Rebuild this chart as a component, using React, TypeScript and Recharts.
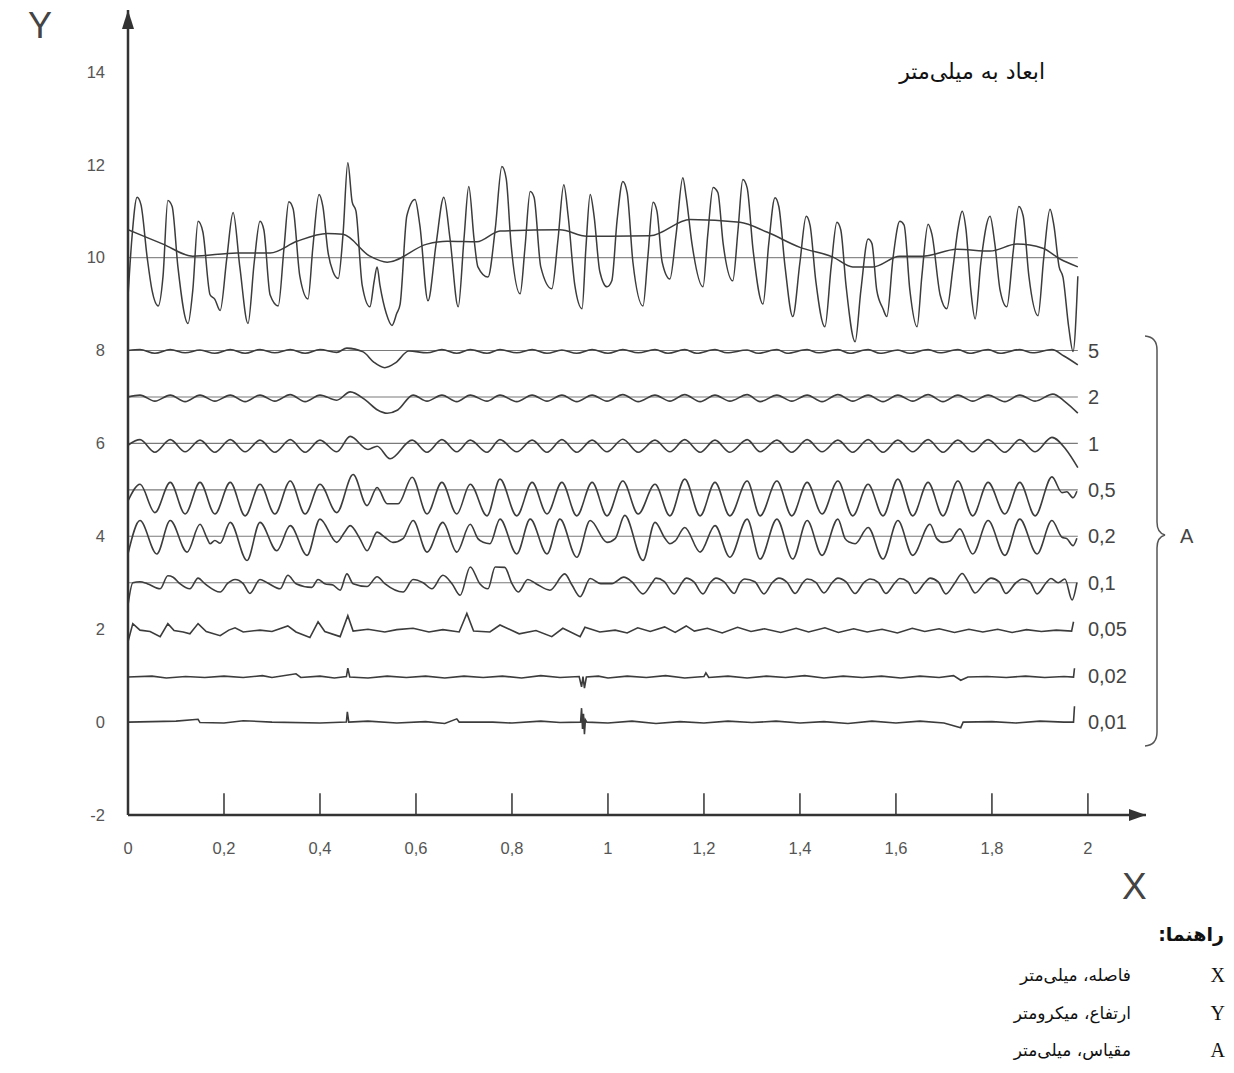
import React from "react";
import { LineChart, Line, XAxis, YAxis, ReferenceLine, ReferenceDot } from "recharts";

type Pt = [number, number];

const xTicks = [0, 0.2, 0.4, 0.6, 0.8, 1, 1.2, 1.4, 1.6, 1.8, 2];
const yTicks = [-2, 0, 2, 4, 6, 8, 10, 12, 14];
const xTickMarks = [0.2, 0.4, 0.6, 0.8, 1, 1.2, 1.4, 1.6, 1.8, 2];
const bandLabels = ["5", "2", "1", "0,5", "0,2", "0,1", "0,05", "0,02", "0,01"];
const bandBases = [8, 7, 6, 5, 4, 3, 2, 1, 0];
const profileLevel = 10;
const traceEnd = 1.979;

// measured profile (X mm, Y µm)
const profile: Pt[] = [
  [0, 9.15], [0.008, 10.4], [0.019, 11.3], [0.027, 11.14], [0.04, 10.0], [0.05, 9.3], [0.063, 8.96],
  [0.073, 9.6], [0.083, 11.23], [0.092, 11.1], [0.104, 9.8], [0.125, 8.58], [0.135, 9.3], [0.146, 10.78],
  [0.156, 10.55], [0.171, 9.2], [0.181, 9.1], [0.192, 8.86], [0.206, 10.0], [0.219, 10.97], [0.233, 9.8],
  [0.25, 8.58], [0.263, 9.9], [0.275, 10.78], [0.283, 10.6], [0.296, 9.2], [0.313, 8.96], [0.325, 10.2],
  [0.335, 11.2], [0.344, 11.05], [0.358, 9.6], [0.375, 9.11], [0.385, 10.2], [0.398, 11.36], [0.406, 11.1],
  [0.417, 10.1], [0.427, 9.7], [0.438, 9.55], [0.448, 10.5], [0.458, 12.04], [0.467, 11.2], [0.475, 11.0],
  [0.488, 9.4], [0.504, 8.94], [0.513, 9.5], [0.519, 9.8], [0.525, 9.4], [0.538, 8.8], [0.55, 8.54],
  [0.56, 8.8], [0.567, 9.0], [0.581, 10.9], [0.598, 11.25], [0.608, 10.7], [0.625, 9.07], [0.642, 10.3],
  [0.658, 11.3], [0.671, 10.4], [0.688, 8.94], [0.7, 10.4], [0.71, 11.53], [0.721, 10.4], [0.729, 9.8],
  [0.75, 9.58], [0.765, 10.6], [0.779, 11.96], [0.788, 11.7], [0.798, 10.3], [0.817, 9.22], [0.827, 10.2],
  [0.838, 11.42], [0.846, 11.3], [0.86, 9.8], [0.883, 9.33], [0.896, 10.4], [0.908, 11.57], [0.917, 10.9],
  [0.931, 9.4], [0.946, 8.9], [0.954, 10.2], [0.963, 11.36], [0.971, 10.9], [0.983, 9.7], [0.998, 9.37],
  [1.008, 9.5], [1.019, 10.8], [1.031, 11.64], [1.04, 11.4], [1.052, 9.9], [1.073, 8.96], [1.083, 10.0],
  [1.094, 11.19], [1.102, 11.0], [1.113, 9.9], [1.129, 9.54], [1.142, 10.5], [1.156, 11.72], [1.163, 11.3],
  [1.175, 10.3], [1.198, 9.37], [1.208, 10.5], [1.219, 11.51], [1.229, 11.4], [1.24, 10.3], [1.26, 9.5],
  [1.271, 10.6], [1.281, 11.68], [1.29, 11.5], [1.302, 10.2], [1.323, 9.0], [1.335, 10.3], [1.348, 11.29],
  [1.356, 11.1], [1.369, 9.8], [1.385, 8.73], [1.4, 9.9], [1.413, 10.89], [1.421, 10.7], [1.433, 9.5],
  [1.452, 8.51], [1.465, 9.8], [1.477, 10.76], [1.485, 10.6], [1.496, 9.4], [1.515, 8.19], [1.527, 9.3],
  [1.542, 10.4], [1.55, 10.3], [1.56, 9.3], [1.573, 8.9], [1.581, 8.73], [1.594, 10.0], [1.608, 10.78],
  [1.617, 10.7], [1.629, 9.3], [1.644, 8.51], [1.654, 9.6], [1.667, 10.72], [1.675, 10.5], [1.692, 9.2],
  [1.706, 8.9], [1.719, 9.8], [1.729, 10.6], [1.738, 11.0], [1.746, 10.6], [1.756, 9.3], [1.765, 8.68],
  [1.777, 9.9], [1.796, 10.89], [1.806, 10.3], [1.817, 9.3], [1.831, 8.94], [1.844, 10.1], [1.856, 11.1],
  [1.865, 10.9], [1.877, 9.6], [1.896, 8.75], [1.908, 10.0], [1.921, 11.04], [1.929, 10.7], [1.94, 9.8],
  [1.948, 9.58], [1.96, 8.5], [1.969, 7.98], [1.979, 9.6],
];

// mean line through the profile
const meanLine: Pt[] = [
  [0, 10.6], [0.035, 10.45], [0.073, 10.29], [0.135, 10.03], [0.227, 10.1], [0.296, 10.1], [0.352, 10.35],
  [0.415, 10.52], [0.448, 10.5], [0.504, 10.03], [0.54, 9.9], [0.623, 10.29], [0.665, 10.35], [0.727, 10.34],
  [0.775, 10.57], [0.9, 10.6], [0.956, 10.46], [1.004, 10.46], [1.088, 10.47], [1.171, 10.82], [1.275, 10.76],
  [1.331, 10.55], [1.4, 10.22], [1.469, 10.01], [1.51, 9.8], [1.552, 9.8], [1.608, 10.03], [1.656, 10.03],
  [1.727, 10.18], [1.796, 10.14], [1.852, 10.29], [1.906, 10.2], [1.942, 9.97], [1.979, 9.8],
];

// filtered components, one per scale
const band5: Pt[] = [
  [0, 8.0], [0.025, 8.02], [0.056, 7.94], [0.088, 8.02], [0.119, 7.95], [0.15, 8.01], [0.181, 7.94],
  [0.213, 8.02], [0.244, 7.94], [0.275, 8.02], [0.306, 7.95], [0.338, 8.02], [0.369, 7.94], [0.4, 8.02],
  [0.435, 7.96], [0.456, 8.05], [0.49, 7.97], [0.512, 7.75], [0.535, 7.63], [0.558, 7.74], [0.585, 7.99],
  [0.623, 7.95], [0.654, 8.02], [0.685, 7.94], [0.713, 8.02], [0.748, 7.94], [0.775, 8.02], [0.81, 7.95],
  [0.842, 8.02], [0.873, 7.94], [0.904, 8.01], [0.935, 7.94], [0.967, 8.02], [1.0, 7.94], [1.031, 8.02],
  [1.063, 7.95], [1.098, 8.02], [1.125, 7.94], [1.16, 8.02], [1.185, 7.94], [1.223, 8.02], [1.248, 7.95],
  [1.29, 8.01], [1.313, 7.94], [1.352, 8.02], [1.373, 7.94], [1.415, 8.02], [1.438, 7.95], [1.479, 8.02],
  [1.504, 7.94], [1.542, 8.02], [1.567, 7.94], [1.604, 8.01], [1.629, 7.94], [1.667, 8.02], [1.692, 7.95],
  [1.729, 8.02], [1.754, 7.94], [1.792, 8.02], [1.817, 7.94], [1.858, 8.02], [1.885, 7.95], [1.925, 8.02],
  [1.95, 7.88], [1.979, 7.69],
];

const band2: Pt[] = [
  [0, 7.0], [0.025, 7.04], [0.056, 6.91], [0.088, 7.04], [0.119, 6.9], [0.15, 7.04], [0.181, 6.91],
  [0.213, 7.04], [0.244, 6.9], [0.275, 7.04], [0.306, 6.91], [0.338, 7.05], [0.369, 6.9], [0.4, 7.04],
  [0.435, 6.93], [0.463, 7.11], [0.495, 6.93], [0.52, 6.72], [0.54, 6.65], [0.562, 6.72], [0.594, 7.04],
  [0.623, 6.91], [0.654, 7.04], [0.685, 6.9], [0.713, 7.04], [0.748, 6.91], [0.775, 7.04], [0.81, 6.9],
  [0.842, 7.04], [0.873, 6.91], [0.904, 7.04], [0.935, 6.9], [0.967, 7.04], [0.998, 6.91], [1.031, 7.05],
  [1.063, 6.9], [1.098, 7.04], [1.129, 6.91], [1.16, 7.05], [1.192, 6.9], [1.223, 7.04], [1.254, 6.91],
  [1.29, 7.05], [1.317, 6.9], [1.352, 7.04], [1.383, 6.91], [1.415, 7.04], [1.446, 6.9], [1.479, 7.05],
  [1.51, 6.91], [1.542, 7.04], [1.573, 6.9], [1.604, 7.04], [1.635, 6.91], [1.667, 7.05], [1.698, 6.9],
  [1.729, 7.04], [1.76, 6.91], [1.792, 7.04], [1.827, 6.9], [1.858, 7.04], [1.89, 6.91], [1.927, 7.06],
  [1.952, 6.9], [1.979, 6.65],
];

const band1: Pt[] = [
  [0, 5.96], [0.025, 6.08], [0.056, 5.81], [0.088, 6.08], [0.119, 5.82], [0.15, 6.07], [0.181, 5.81],
  [0.213, 6.08], [0.244, 5.82], [0.275, 6.07], [0.306, 5.81], [0.338, 6.08], [0.369, 5.81], [0.4, 6.07],
  [0.435, 5.82], [0.463, 6.15], [0.5, 5.87], [0.519, 5.94], [0.546, 5.67], [0.592, 6.07], [0.623, 5.81],
  [0.654, 6.08], [0.685, 5.82], [0.713, 6.07], [0.748, 5.81], [0.775, 6.08], [0.81, 5.82], [0.842, 6.07],
  [0.873, 5.81], [0.904, 6.08], [0.935, 5.81], [0.967, 6.07], [0.998, 5.82], [1.031, 6.09], [1.063, 5.81],
  [1.098, 6.07], [1.129, 5.82], [1.16, 6.08], [1.192, 5.81], [1.223, 6.07], [1.254, 5.81], [1.29, 6.08],
  [1.317, 5.82], [1.352, 6.07], [1.383, 5.81], [1.415, 6.08], [1.446, 5.82], [1.479, 6.07], [1.51, 5.81],
  [1.542, 6.08], [1.573, 5.81], [1.604, 6.07], [1.635, 5.82], [1.667, 6.08], [1.698, 5.81], [1.729, 6.07],
  [1.76, 5.82], [1.792, 6.08], [1.827, 5.81], [1.858, 6.08], [1.89, 5.82], [1.925, 6.13], [1.955, 5.86],
  [1.979, 5.48],
];

const band05: Pt[] = [
  [0, 4.76], [0.025, 5.12], [0.056, 4.51], [0.088, 5.16], [0.119, 4.48], [0.15, 5.16], [0.181, 4.48],
  [0.213, 5.16], [0.244, 4.44], [0.275, 5.12], [0.306, 4.48], [0.338, 5.19], [0.369, 4.48], [0.4, 5.12],
  [0.435, 4.51], [0.469, 5.33], [0.498, 4.66], [0.519, 5.05], [0.54, 4.7], [0.563, 4.7], [0.592, 5.27],
  [0.623, 4.48], [0.654, 5.16], [0.685, 4.48], [0.713, 5.12], [0.748, 4.44], [0.775, 5.23], [0.81, 4.44],
  [0.842, 5.16], [0.873, 4.48], [0.904, 5.16], [0.935, 4.44], [0.967, 5.16], [0.998, 4.44], [1.031, 5.19],
  [1.063, 4.48], [1.098, 5.12], [1.129, 4.44], [1.16, 5.23], [1.192, 4.44], [1.223, 5.16], [1.254, 4.44],
  [1.29, 5.19], [1.317, 4.44], [1.352, 5.19], [1.383, 4.44], [1.415, 5.16], [1.446, 4.48], [1.479, 5.19],
  [1.51, 4.44], [1.542, 5.12], [1.573, 4.44], [1.604, 5.23], [1.635, 4.44], [1.667, 5.16], [1.698, 4.44],
  [1.729, 5.19], [1.76, 4.44], [1.792, 5.16], [1.827, 4.48], [1.858, 5.16], [1.89, 4.44], [1.925, 5.28],
  [1.946, 4.94], [1.956, 4.96], [1.969, 4.83], [1.977, 4.97],
];

const band02: Pt[] = [
  [0, 3.62], [0.025, 4.34], [0.06, 3.62], [0.088, 4.34], [0.123, 3.66], [0.15, 4.26], [0.165, 3.95],
  [0.171, 3.84], [0.181, 3.91], [0.192, 3.85], [0.213, 4.3], [0.248, 3.48], [0.275, 4.3], [0.31, 3.69],
  [0.338, 4.23], [0.373, 3.59], [0.4, 4.37], [0.435, 3.87], [0.452, 4.1], [0.463, 4.23], [0.483, 3.95],
  [0.498, 3.69], [0.519, 4.09], [0.535, 3.98], [0.552, 3.87], [0.573, 3.95], [0.594, 4.34], [0.623, 3.66],
  [0.656, 4.3], [0.685, 3.66], [0.713, 4.26], [0.729, 3.95], [0.74, 3.87], [0.754, 3.84], [0.775, 4.37],
  [0.81, 3.62], [0.838, 4.37], [0.873, 3.62], [0.9, 4.37], [0.935, 3.55], [0.963, 4.34], [0.998, 3.87],
  [1.015, 3.95], [1.035, 4.45], [1.073, 3.48], [1.098, 4.3], [1.119, 3.95], [1.129, 3.84], [1.14, 3.9],
  [1.16, 4.19], [1.192, 3.66], [1.223, 4.23], [1.254, 3.55], [1.29, 4.37], [1.317, 3.51], [1.352, 4.37],
  [1.385, 3.51], [1.415, 4.34], [1.446, 3.59], [1.479, 4.37], [1.494, 3.95], [1.504, 3.87], [1.515, 3.84],
  [1.542, 4.19], [1.573, 3.51], [1.604, 4.34], [1.635, 3.59], [1.671, 4.26], [1.685, 3.95], [1.698, 3.87],
  [1.713, 3.9], [1.733, 4.16], [1.76, 3.62], [1.792, 4.34], [1.827, 3.59], [1.858, 4.37], [1.894, 3.62],
  [1.925, 4.34], [1.946, 3.98], [1.956, 3.95], [1.969, 3.8], [1.977, 3.96],
];

const band01: Pt[] = [
  [0, 2.52], [0.01, 3.0], [0.025, 3.02], [0.04, 2.98], [0.067, 2.87], [0.083, 3.15], [0.094, 3.12],
  [0.108, 2.98], [0.129, 2.87], [0.146, 3.1], [0.16, 2.98], [0.192, 2.8], [0.208, 2.99], [0.223, 3.07],
  [0.24, 2.98], [0.254, 2.77], [0.275, 3.07], [0.29, 3.0], [0.317, 2.87], [0.333, 3.16], [0.35, 2.98],
  [0.383, 2.9], [0.396, 3.07], [0.41, 2.98], [0.427, 2.95], [0.442, 2.84], [0.456, 3.19], [0.469, 2.98],
  [0.498, 2.92], [0.519, 3.13], [0.535, 2.98], [0.573, 2.8], [0.594, 3.07], [0.615, 3.0], [0.633, 2.87],
  [0.656, 3.16], [0.675, 2.98], [0.692, 2.73], [0.713, 3.34], [0.733, 2.98], [0.75, 2.87], [0.765, 3.34],
  [0.785, 3.33], [0.8, 2.98], [0.813, 2.8], [0.833, 3.07], [0.85, 2.98], [0.879, 2.84], [0.91, 3.19],
  [0.925, 2.95], [0.942, 2.7], [0.963, 3.09], [0.985, 2.98], [1.008, 2.98], [1.033, 3.12], [1.05, 3.02],
  [1.073, 2.76], [1.092, 3.0], [1.1, 3.1], [1.117, 3.03], [1.138, 2.76], [1.154, 3.0], [1.163, 3.1],
  [1.179, 3.02], [1.198, 2.76], [1.213, 3.0], [1.225, 3.1], [1.242, 3.02], [1.263, 2.77], [1.275, 3.0],
  [1.285, 3.08], [1.306, 3.02], [1.325, 2.76], [1.342, 3.0], [1.356, 3.1], [1.373, 3.01], [1.39, 2.77],
  [1.406, 3.0], [1.415, 3.08], [1.433, 3.01], [1.45, 2.78], [1.467, 3.0], [1.479, 3.1], [1.496, 3.02],
  [1.515, 2.77], [1.533, 3.0], [1.546, 3.08], [1.563, 3.01], [1.579, 2.77], [1.598, 3.0], [1.608, 3.09],
  [1.625, 3.02], [1.64, 2.77], [1.66, 3.0], [1.671, 3.1], [1.688, 3.02], [1.704, 2.76], [1.723, 3.0],
  [1.738, 3.2], [1.75, 3.03], [1.765, 2.78], [1.785, 3.0], [1.798, 3.1], [1.815, 3.02], [1.829, 2.77],
  [1.85, 3.0], [1.863, 3.08], [1.879, 3.02], [1.894, 2.76], [1.913, 3.0], [1.923, 3.09], [1.938, 3.0],
  [1.952, 3.08], [1.967, 2.63], [1.977, 3.0],
];

const band005: Pt[] = [
  [0, 1.73], [0.01, 2.12], [0.025, 1.98], [0.046, 1.95], [0.067, 1.84], [0.083, 2.12], [0.096, 1.97],
  [0.115, 1.94], [0.129, 1.9], [0.146, 2.12], [0.163, 1.95], [0.192, 1.86], [0.21, 1.98], [0.223, 2.03],
  [0.24, 1.94], [0.275, 1.98], [0.3, 1.95], [0.333, 2.07], [0.35, 1.94], [0.379, 1.82], [0.396, 2.16],
  [0.41, 1.95], [0.442, 1.84], [0.458, 2.29], [0.469, 1.96], [0.5, 2.0], [0.535, 1.94], [0.56, 1.99],
  [0.594, 2.02], [0.627, 1.94], [0.656, 1.99], [0.69, 1.94], [0.706, 2.34], [0.72, 1.96], [0.754, 1.94],
  [0.775, 2.09], [0.815, 1.9], [0.85, 1.97], [0.883, 1.84], [0.906, 2.02], [0.942, 1.84], [0.952, 2.04],
  [0.983, 1.94], [1.015, 1.98], [1.04, 1.92], [1.062, 2.03], [1.088, 1.95], [1.118, 2.05], [1.14, 1.93],
  [1.163, 2.07], [1.18, 1.96], [1.207, 2.02], [1.238, 1.92], [1.27, 2.04], [1.298, 1.95], [1.326, 2.01],
  [1.36, 1.93], [1.392, 2.02], [1.418, 1.94], [1.452, 2.03], [1.48, 1.93], [1.512, 2.01], [1.54, 1.94],
  [1.571, 2.0], [1.603, 1.92], [1.634, 2.02], [1.66, 1.95], [1.69, 2.01], [1.722, 1.93], [1.752, 2.0],
  [1.781, 1.94], [1.812, 2.0], [1.842, 1.93], [1.872, 1.99], [1.903, 1.95], [1.934, 1.98], [1.966, 1.96],
  [1.97, 2.16],
];

const band002: Pt[] = [
  [0, 0.97], [0.05, 0.99], [0.08, 0.95], [0.12, 0.98], [0.16, 0.96], [0.2, 0.99], [0.24, 0.96], [0.28, 1.0],
  [0.3, 0.96], [0.35, 1.04], [0.36, 0.96], [0.4, 0.99], [0.43, 0.95], [0.455, 0.98], [0.458, 1.16],
  [0.462, 0.97], [0.5, 0.95], [0.54, 0.99], [0.58, 0.96], [0.62, 0.99], [0.66, 0.95], [0.7, 0.99],
  [0.74, 0.96], [0.78, 0.99], [0.82, 0.95], [0.86, 1.0], [0.9, 0.96], [0.94, 0.98], [0.945, 0.76],
  [0.948, 0.98], [0.951, 0.73], [0.955, 0.97], [0.98, 0.99], [1.0, 0.95], [1.04, 0.99], [1.08, 0.96],
  [1.12, 1.0], [1.16, 0.95], [1.2, 0.98], [1.204, 1.06], [1.21, 0.96], [1.25, 0.99], [1.29, 0.95],
  [1.33, 0.99], [1.37, 0.96], [1.41, 1.0], [1.45, 0.95], [1.49, 0.99], [1.53, 0.96], [1.57, 0.99],
  [1.61, 0.95], [1.65, 0.99], [1.69, 0.96], [1.72, 1.0], [1.735, 0.9], [1.75, 0.97], [1.79, 0.98],
  [1.83, 0.96], [1.87, 0.99], [1.91, 0.96], [1.95, 0.98], [1.97, 0.97], [1.972, 1.16],
];

const band001: Pt[] = [
  [0, 0.0], [0.1, 0.02], [0.146, 0.06], [0.15, -0.01], [0.2, -0.02], [0.24, 0.03], [0.3, 0.0], [0.4, -0.02],
  [0.455, 0.0], [0.457, 0.22], [0.46, 0.0], [0.5, 0.02], [0.56, -0.02], [0.62, 0.01], [0.66, -0.03],
  [0.685, 0.07], [0.69, 0.0], [0.76, 0.0], [0.8, -0.02], [0.86, 0.02], [0.9, -0.01], [0.943, 0.0],
  [0.945, 0.3], [0.947, -0.15], [0.949, 0.18], [0.951, -0.26], [0.953, 0.05], [0.956, 0.0], [1.0, -0.02],
  [1.05, 0.02], [1.1, -0.03], [1.15, 0.01], [1.2, -0.02], [1.25, 0.02], [1.3, -0.01], [1.35, 0.02],
  [1.4, -0.02], [1.45, 0.01], [1.5, -0.03], [1.55, 0.02], [1.6, -0.02], [1.65, 0.02], [1.7, -0.02],
  [1.735, -0.12], [1.74, 0.0], [1.8, 0.01], [1.85, -0.02], [1.9, 0.02], [1.95, 0.0], [1.97, 0.0],
  [1.972, 0.34],
];

const smoothBands = [band5, band2, band1, band05, band02, band01];
const noisyBands = [band005, band002, band001];

const rows = (pts: Pt[]) => pts.map(([x, y]) => ({ x, y }));
const comma = (v: number) => String(v).replace(".", ",");

const FONT = "'Liberation Sans', Arial, Helvetica, sans-serif";
const FA_FONT = "'DejaVu Sans', 'Noto Sans', sans-serif";
const INK = "#3c3c3c";

const W = 1218;
const H = 880;

const bandLabel = (text: string) => (p: any) => (
  <text x={p.cx} y={p.cy} dy="0.36em" fontSize={20} fill="#444" fontFamily={FONT}>
    {text}
  </text>
);

const arrowRight = (p: any) => (
  <polygon points={`${p.cx},${p.cy} ${p.cx - 17},${p.cy - 6} ${p.cx - 17},${p.cy + 6}`} fill="#333" />
);
const arrowUp = (p: any) => (
  <polygon points={`${p.cx},${p.cy} ${p.cx - 6},${p.cy + 19} ${p.cx + 6},${p.cy + 19}`} fill="#333" />
);

export default function App() {
  return (
    <div style={{ position: "relative", width: W, height: 1055, background: "#fff" }}>
      <LineChart width={W} height={H} margin={{ top: 2, right: 80, left: 20, bottom: 0 }}>
        <XAxis
          type="number"
          dataKey="x"
          domain={[0, 2.121]}
          allowDataOverflow
          ticks={xTicks}
          interval={0}
          tickFormatter={comma}
          tickLine={false}
          tickSize={0}
          tickMargin={27}
          height={73}
          axisLine={{ stroke: "#333", strokeWidth: 2.5 }}
          tick={{ fontSize: 16.5, fill: "#555", fontFamily: FONT }}
        />
        <YAxis
          type="number"
          dataKey="y"
          domain={[-2, 15.33]}
          allowDataOverflow
          ticks={yTicks}
          interval={0}
          tickLine={false}
          tickSize={0}
          tickMargin={23}
          width={100}
          axisLine={{ stroke: "#333", strokeWidth: 2.5 }}
          tick={{ fontSize: 16.5, fill: "#555", fontFamily: FONT }}
        />

        {xTickMarks.map((t) => (
          <ReferenceLine
            key={`tm-${t}`}
            segment={[{ x: t, y: -2 }, { x: t, y: -1.53 }]}
            stroke="#333"
            strokeWidth={1.5}
          />
        ))}

        <ReferenceLine
          segment={[{ x: 0, y: profileLevel }, { x: traceEnd, y: profileLevel }]}
          stroke="#8a8a8a"
          strokeWidth={1.2}
        />
        {bandBases.slice(0, 6).map((b) => (
          <ReferenceLine
            key={`base-${b}`}
            segment={[{ x: 0, y: b }, { x: traceEnd, y: b }]}
            stroke="#7a7a7a"
            strokeWidth={1.1}
          />
        ))}

        <Line
          data={rows(profile)}
          dataKey="y"
          type="monotone"
          stroke={INK}
          strokeWidth={1.5}
          dot={false}
          activeDot={false}
          isAnimationActive={false}
        />
        <Line
          data={rows(meanLine)}
          dataKey="y"
          type="monotone"
          stroke={INK}
          strokeWidth={1.5}
          dot={false}
          activeDot={false}
          isAnimationActive={false}
        />
        {smoothBands.map((pts, i) => (
          <Line
            key={`sb-${i}`}
            data={rows(pts)}
            dataKey="y"
            type="monotone"
            stroke={INK}
            strokeWidth={1.6}
            dot={false}
            activeDot={false}
            isAnimationActive={false}
          />
        ))}
        {noisyBands.map((pts, i) => (
          <Line
            key={`nb-${i}`}
            data={rows(pts)}
            dataKey="y"
            type="linear"
            stroke={INK}
            strokeWidth={1.6}
            dot={false}
            activeDot={false}
            isAnimationActive={false}
          />
        ))}

        {bandBases.map((b, i) => (
          <ReferenceDot key={`lbl-${b}`} x={2.0} y={b} r={0} ifOverflow="visible" shape={bandLabel(bandLabels[i])} />
        ))}

        <ReferenceDot x={2.121} y={-2} r={0} ifOverflow="visible" shape={arrowRight} />
        <ReferenceDot x={0} y={15.33} r={0} ifOverflow="visible" shape={arrowUp} />
      </LineChart>

      {/* brace grouping the scales, with its letter */}
      <svg width={W} height={1055} style={{ position: "absolute", left: 0, top: 0, pointerEvents: "none" }}>
        <path
          d="M1137,328 Q1149,329 1149,342 L1149,514 Q1149,525 1157,527 Q1149,529 1149,540 L1149,724 Q1149,737 1137,738"
          fill="none"
          stroke="#555"
          strokeWidth={1.5}
        />
        <text x={1172} y={528} dy="0.36em" fontSize={20} fill="#444" fontFamily={FONT}>
          A
        </text>
      </svg>

      <div style={{ position: "absolute", left: 20, top: 0, fontSize: 36, lineHeight: 1, color: "#444", fontFamily: FONT }}>
        Y
      </div>
      <div style={{ position: "absolute", left: 1114, top: 860, fontSize: 37, lineHeight: 1, color: "#444", fontFamily: FONT }}>
        X
      </div>

      <div
        dir="rtl"
        style={{ position: "absolute", right: 181, top: 51, fontSize: 22, lineHeight: "26px", color: "#111", fontFamily: FA_FONT, whiteSpace: "nowrap" }}
      >
        ابعاد به میلی‌متر
      </div>

      <div
        dir="rtl"
        style={{ position: "absolute", right: 2, top: 914, fontSize: 19, lineHeight: "24px", fontWeight: 700, color: "#111", fontFamily: FA_FONT, whiteSpace: "nowrap" }}
      >
        راهنما:
      </div>
      {[
        ["X", "فاصله، میلی‌متر", 955],
        ["Y", "ارتفاع، میکرومتر", 993],
        ["A", "مقیاس، میلی‌متر", 1030],
      ].map(([k, v, top]) => (
        <React.Fragment key={k as string}>
          <div style={{ position: "absolute", right: 1, top: top as number, fontSize: 20, lineHeight: "24px", color: "#111", fontFamily: "'Liberation Serif', 'Times New Roman', serif" }}>
            {k}
          </div>
          <div
            dir="rtl"
            style={{ position: "absolute", right: 95, top: top as number, fontSize: 17, lineHeight: "24px", color: "#111", fontFamily: FA_FONT, whiteSpace: "nowrap" }}
          >
            {v}
          </div>
        </React.Fragment>
      ))}
    </div>
  );
}
